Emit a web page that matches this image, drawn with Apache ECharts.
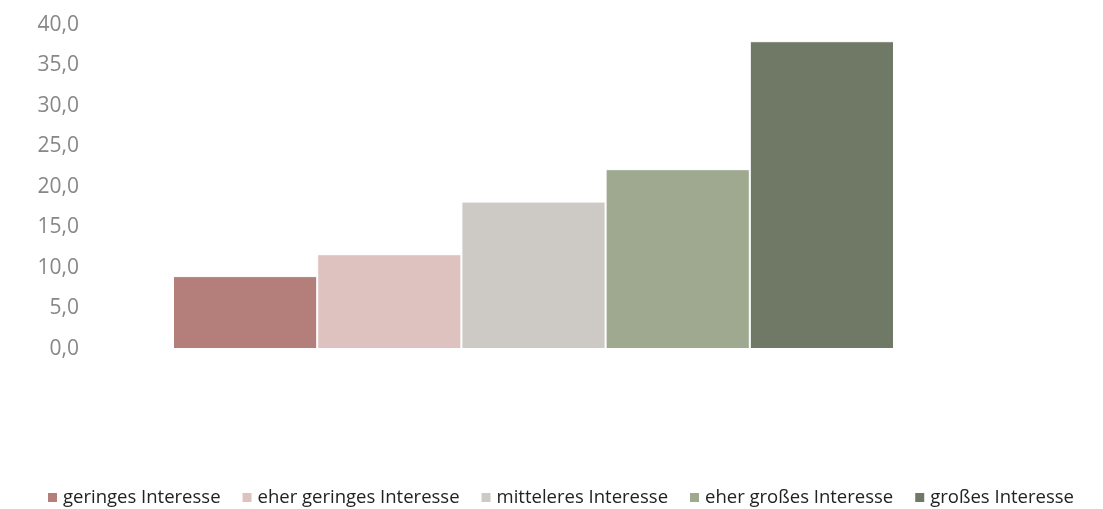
<!DOCTYPE html>
<html>
<head>
<meta charset="utf-8">
<script src="https://cdn.jsdelivr.net/npm/echarts@6/dist/echarts.min.js"></script>
<style>
  html, body { margin: 0; padding: 0; background: #fff; }
  #chart { width: 1103px; height: 509px; }
</style>
</head>
<body>
<div id="chart"></div>
<script>
// Interest levels (percent of respondents)
const categories = ['Interesse'];
const seriesNames = ['geringes Interesse', 'eher geringes Interesse', 'mitteleres Interesse', 'eher großes Interesse', 'großes Interesse'];
const seriesValues = [9.0, 11.7, 18.2, 22.2, 38.0];
const seriesColors = ['#b47f7a', '#dec2bf', '#cdcac6', '#9ea990', '#707965'];
const yTicks = { min: 0, max: 40, interval: 5 };

const chart = echarts.init(document.getElementById('chart'));
const fontFamily = '"Open Sans", Lato, sans-serif';

chart.setOption({
  animation: false,
  textStyle: { fontFamily },
  grid: { left: 173, right: 209, top: 25, bottom: 160, containLabel: false },
  xAxis: {
    type: 'category',
    data: categories,
    axisLine: { show: false },
    axisTick: { show: false },
    axisLabel: { show: false }
  },
  yAxis: {
    type: 'value',
    min: yTicks.min,
    max: yTicks.max,
    interval: yTicks.interval,
    splitLine: { show: false },
    axisLine: { show: false },
    axisTick: { show: false },
    axisLabel: {
      margin: 94,
      color: '#878787',
      fontSize: 21,
      fontFamily,
      formatter: v => v.toFixed(1).replace('.', ',')
    }
  },
  legend: {
    top: 483,
    left: 41,
    itemWidth: 11,
    itemHeight: 11,
    itemGap: 20,
    icon: 'rect',
    textStyle: { color: '#222', fontSize: 18.5, fontFamily },
    data: seriesNames
  },
  series: seriesNames.map((name, i) => ({
    name,
    type: 'bar',
    data: [seriesValues[i]],
    barGap: '0%',
    barCategoryGap: '0%',
    itemStyle: { color: seriesColors[i], borderColor: '#ffffff', borderWidth: 1 }
  }))
});
</script>
</body>
</html>
